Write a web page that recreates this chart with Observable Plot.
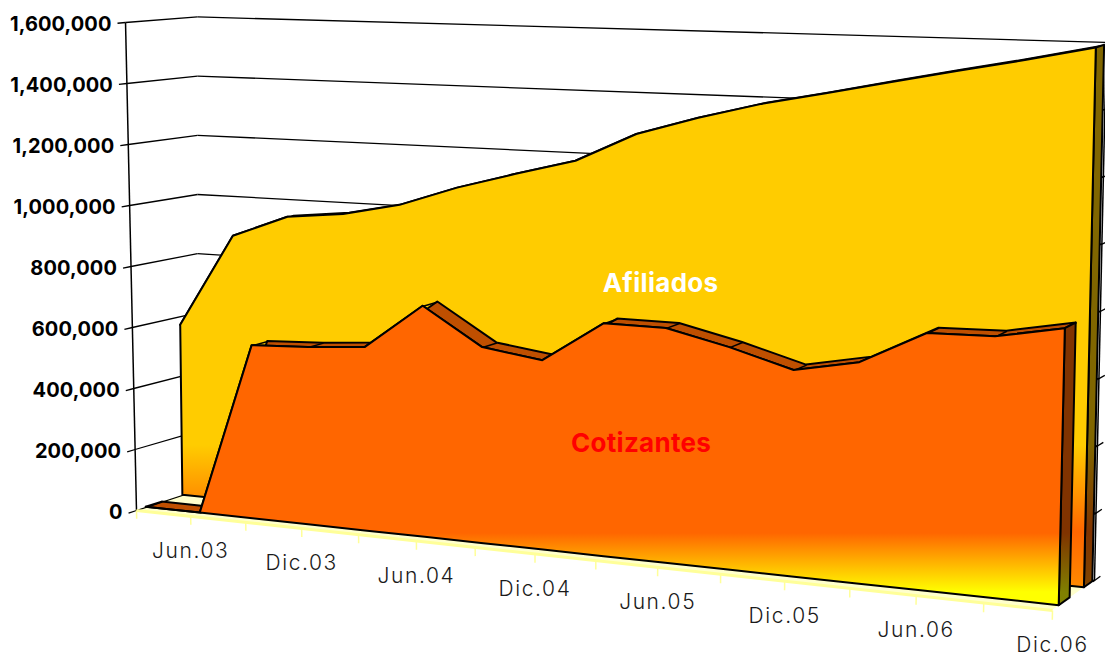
<!DOCTYPE html>
<html>
<head>
<meta charset="utf-8">
<script src="https://cdn.jsdelivr.net/npm/d3@7"></script>
<script src="https://cdn.jsdelivr.net/npm/@observablehq/plot@0.6"></script>
<style>html,body{margin:0;padding:0;background:#fff;overflow:hidden}
.xlabels text{letter-spacing:1.6px}
.ylabels text{letter-spacing:0.1px}
.names text{letter-spacing:0.3px}</style>
</head>
<body>
<div id="chart"></div>
<script>
// ---- data ----
const quarters = ["Mar.03","Jun.03","Sep.03","Dic.03","Mar.04","Jun.04","Sep.04","Dic.04","Mar.05","Jun.05","Sep.05","Dic.05","Mar.06","Jun.06","Sep.06","Dic.06"];
const cotizantes = [0,0,562000,571000,586000,731000,615000,589000,718000,718000,674000,620000,659000,760000,765000,803000];
const afiliados = [570000,880000,954000,974000,1014000,1080000,1134000,1185000,1278000,1337000,1388000,1428000,1470000,1511000,1550000,1593000];
const valueTicks = [0,200000,400000,600000,800000,1000000,1200000,1400000,1600000];
const labelled = ["Jun.03","Dic.03","Jun.04","Dic.04","Jun.05","Dic.05","Jun.06","Dic.06"];

// ---- 3D view: depth planes of the series, and the perspective ----
const depth = {cotFront:0.16, cotBack:0.42, afiFront:0.76, afiTop:0.85, afiSide:0.96, wall:1};
const last = quarters.length - 1;
function project(t, value, z) {
  const T = t / last, w = 1 - 0.12 * T;
  const s = T * 0.88 / w;
  const baseX = d3.interpolate(136 + 61 * z, 1052 + 42 * z)(s);
  const baseY = d3.interpolate(510 - 20 * z, 610 - 30 * z)(s);
  const h = (value / 1e6) * (305 - 9 * z) / w;
  const lean = d3.interpolate(-0.0225 * (1 - z * z * z), 0.022)(s);
  return [baseX + lean * h, baseY - h];
}
const seg = (a, b) => ({x1:a[0], y1:a[1], x2:b[0], y2:b[1]});
// A ribbon between two projected edges, one row per quarter
const ribbon = (edge1, edge2) => edge1.map((d, i) => seg(project(...d), project(...edge2[i])));
const idx = d3.range(quarters.length);
const faceOf = (vals, z) => ribbon(idx.map(i => [i, vals[i], z]), idx.map(i => [i, 0, z]));
const topOf = (vals, z1, z2) => ribbon(idx.map(i => [i, vals[i], z1]), idx.map(i => [i, vals[i], z2]));
const sideOf = (v, z1, z2) => ribbon([[last, v, z1],[last, 0, z1]], [[last, v, z2],[last, 0, z2]]);

const leftWall = valueTicks.map(v => seg(project(0, v, 0), project(0, v, depth.wall)));
const backWall = valueTicks.map(v => seg(project(0, v, depth.wall), project(last, v, depth.wall)));
const leftTicks = valueTicks.map(v => seg(project(0, v, -0.13), project(0, v, 0)));
const rightTicks = valueTicks.map(v => seg(project(last, v, 0.96), project(last, v, 1.14)));
const axisLines = [seg(project(0,0,0), project(0,1600000,0)), seg(project(last,0,1), project(last,1600000,1))];
const floorTicks = idx.map(i => seg(project(i,0,0), project(i,-27000,0)));
const floorEdge = [seg(project(0,0,0), project(last,0,0))];
const floorPlane = ribbon([[0,0,0],[last,0,0]], [[0,0,1],[last,0,1]]);

const gradientDefs = () => {
  const d = d3.create("svg:defs");
  const grad = (id, y1, y2, stops) => {
    const g = d.append("linearGradient").attr("id", id).attr("gradientUnits", "userSpaceOnUse")
      .attr("x1", 0).attr("x2", 0).attr("y1", y1).attr("y2", y2);
    stops.forEach(([o, c]) => g.append("stop").attr("offset", o).attr("stop-color", c));
  };
  grad("cotFace", 533, 592, [[0,"#FF6600"],[1,"#FFFF00"]]);
  grad("cotSide", 533, 592, [[0,"#803300"],[1,"#808000"]]);
  grad("afiFace", 445, 590, [[0,"#FFCC00"],[0.6,"#FF6600"],[1,"#FF8C00"]]);
  grad("afiSide", 445, 590, [[0,"#806600"],[0.6,"#803300"],[1,"#804600"]]);
  return d.node();
};

const linkMark = (data, o) => Plot.link(data, {x1:"x1", y1:"y1", x2:"x2", y2:"y2", stroke:"#000", strokeWidth:1.3, ...o});
const band = (data, o) => Plot.area(data, {x1:"x1", y1:"y1", x2:"x2", y2:"y2", stroke:"#000", strokeWidth:2, strokeLinejoin:"round", curve:"linear", ...o});

const font = "Inter, 'Liberation Sans', sans-serif";
const chart = Plot.plot({
  width: 1105, height: 656,
  marginTop: 0, marginRight: 0, marginBottom: 0, marginLeft: 0,
  x: {domain: [0, 1105], range: [0, 1105], axis: null},
  y: {domain: [0, 656], range: [0, 656], axis: null},
  style: {display: "block", background: "#fff"},
  marks: [
    gradientDefs,
    band(floorPlane, {fill:"#FFFFCC", stroke:"none"}),
    linkMark(leftWall),
    linkMark(backWall),
    linkMark(leftTicks),
    linkMark(rightTicks),
    linkMark(axisLines, {strokeWidth:1.5}),
    linkMark(floorEdge, {stroke:"#FFFF99", strokeWidth:3}),
    linkMark(floorTicks, {stroke:"#FFFF99", strokeWidth:1.5}),

    band(topOf(afiliados, depth.afiFront, depth.afiTop), {fill:"#BF9900"}),
    band(sideOf(afiliados[last], depth.afiFront, depth.afiSide), {fill:"url(#afiSide)"}),
    band(faceOf(afiliados, depth.afiFront), {fill:"url(#afiFace)"}),

    band(topOf(cotizantes, depth.cotFront, depth.cotBack), {fill:"#BF4F00"}),
    linkMark(topOf(cotizantes, depth.cotFront, depth.cotBack), {strokeWidth:1.5}),
    band(sideOf(cotizantes[last], depth.cotFront, depth.cotBack), {fill:"url(#cotSide)"}),
    band(faceOf(cotizantes, depth.cotFront), {fill:"url(#cotFace)"}),

    Plot.text(valueTicks, {
      x: d => project(0, d, 0)[0], y: d => project(0, d, 0)[1],
      text: d => d3.format(",")(d), textAnchor: "end", dx: -14, dy: 2,
      fontFamily: font, fontWeight: 700, fontSize: 20, fill: "#000", className: "ylabels"
    }),
    Plot.text(labelled, {
      x: d => project(quarters.indexOf(d), 0, 0)[0], y: d => project(quarters.indexOf(d), 0, 0)[1],
      text: d => d, dy: 35,
      fontFamily: font, fontWeight: 300, fontSize: 21, fill: "#1a1a1a", className: "xlabels"
    }),
    Plot.text([{label:"Afiliados", t:8.4, v:815000, z:depth.afiFront}], {
      x: d => project(d.t, d.v, d.z)[0], y: d => project(d.t, d.v, d.z)[1],
      text: "label", fontFamily: font, fontWeight: 700, fontSize: 26, fill: "#fff", className: "names"
    }),
    Plot.text([{label:"Cotizantes", t:8.6, v:360000, z:depth.cotFront}], {
      x: d => project(d.t, d.v, d.z)[0], y: d => project(d.t, d.v, d.z)[1],
      text: "label", fontFamily: font, fontWeight: 700, fontSize: 26, fill: "#FF0000", className: "names"
    })
  ]
});
document.getElementById("chart").append(chart);
</script>
</body>
</html>
